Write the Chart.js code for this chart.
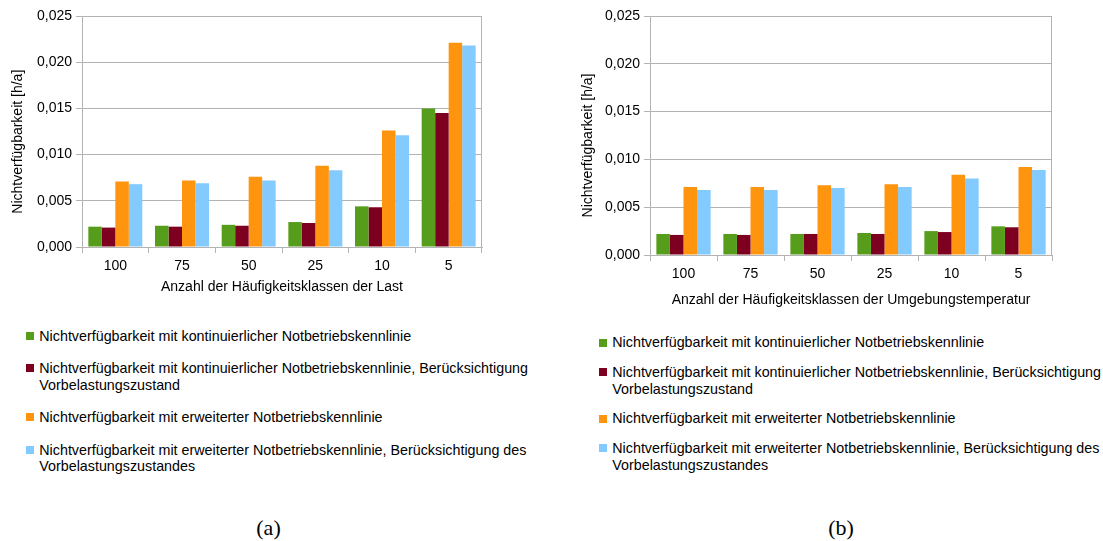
<!DOCTYPE html>
<html lang="de">
<head>
<meta charset="utf-8">
<title>Nichtverfügbarkeit</title>
<script src="https://cdn.jsdelivr.net/npm/chart.js@4.4.1/dist/chart.umd.min.js"></script>
<style>
  html, body { margin: 0; padding: 0; background: #fff; }
  body { width: 1103px; height: 541px; position: relative; overflow: hidden;
         font-family: "Liberation Sans", Arial, sans-serif; color: #000; }
  .chartbox { position: absolute; }
  .legend { position: absolute; font-size: 14.3px; }
  .legend .item { position: relative; white-space: pre; }
  .legend .swatch { position: absolute; left: 0; width: 8px; height: 8px; }
  .caption { position: absolute; font-family: "Liberation Serif", serif; font-size: 22px;
             transform: translate(-50%, -50%); white-space: nowrap; }
</style>
</head>
<body>
<div class="chartbox" style="left:0;top:0;"><canvas id="chartLast" width="560" height="310"></canvas></div>
<div class="chartbox" style="left:560px;top:0;"><canvas id="chartTemp" width="543" height="320"></canvas></div>
<div class="legend" id="legendLast" style="left:26px;top:327.5px;"></div>
<div class="legend" id="legendTemp" style="left:599.3px;top:334.2px;"></div>
<div class="caption" style="left:268.5px;top:528px;">(a)</div>
<div class="caption" style="left:841px;top:528px;">(b)</div>

<script>
// Categories: number of frequency classes
const categories = ['100', '75', '50', '25', '10', '5'];

// Series names (explicit line breaks as in the legend)
const seriesNames = [
  'Nichtverfügbarkeit mit kontinuierlicher Notbetriebskennlinie',
  'Nichtverfügbarkeit mit kontinuierlicher Notbetriebskennlinie, Berücksichtigung\nVorbelastungszustand',
  'Nichtverfügbarkeit mit erweiterter Notbetriebskennlinie',
  'Nichtverfügbarkeit mit erweiterter Notbetriebskennlinie, Berücksichtigung des\nVorbelastungszustandes'
];
const seriesColors = ['#579d1c', '#7e0021', '#ff950e', '#83caff'];

// (a) classes of the load [h/a]
const lastKontinuierlich            = [0.0022, 0.0023, 0.0024, 0.0027, 0.0044, 0.0150];
const lastKontinuierlichVorbelastung = [0.0021, 0.0022, 0.0023, 0.0026, 0.0043, 0.0145];
const lastErweitert                 = [0.0071, 0.0072, 0.0076, 0.0088, 0.0126, 0.0221];
const lastErweitertVorbelastung     = [0.0068, 0.0069, 0.0072, 0.0083, 0.0121, 0.0218];

// (b) classes of the ambient temperature [h/a]
const tempKontinuierlich            = [0.0022, 0.0022, 0.0022, 0.0023, 0.0025, 0.0030];
const tempKontinuierlichVorbelastung = [0.0021, 0.0021, 0.0022, 0.0022, 0.0024, 0.0029];
const tempErweitert                 = [0.0071, 0.0071, 0.0073, 0.0074, 0.0084, 0.0092];
const tempErweitertVorbelastung     = [0.0068, 0.0068, 0.0070, 0.0071, 0.0080, 0.0089];

// Value axis
const yMin = 0, yMax = 0.025, yStep = 0.005;
const yTickLabels = ['0,000', '0,005', '0,010', '0,015', '0,020', '0,025'];
const yTitle = 'Nichtverfügbarkeit [h/a]';

const FONT = '"Liberation Sans", Arial, sans-serif';
const GRID = '#b3b3b3';

// Frame around the plot area
const framePlugin = {
  id: 'frame',
  beforeDatasetsDraw(chart) {
    const a = chart.chartArea, ctx = chart.ctx;
    ctx.save();
    ctx.strokeStyle = GRID;
    ctx.lineWidth = 1;
    ctx.strokeRect(Math.round(a.left) + 0.5, Math.round(a.top) + 0.5,
                   Math.round(a.right - a.left) - 1, Math.round(a.bottom - a.top));
    ctx.restore();
  }
};

// Rotated value-axis title, centred over the whole chart block
const yTitlePlugin = {
  id: 'yTitle',
  afterDraw(chart, args, opts) {
    const ctx = chart.ctx;
    ctx.save();
    ctx.translate(opts.x, opts.y);
    ctx.rotate(-Math.PI / 2);
    ctx.font = '14px ' + FONT;
    ctx.fillStyle = '#000';
    ctx.textAlign = 'center';
    ctx.textBaseline = 'middle';
    ctx.fillText(opts.text, 0, 0);
    ctx.restore();
  }
};

function makeChart(id, xTitle, series, g) {
  const datasets = series.map((values, i) => ({
    label: seriesNames[i],
    data: values,
    backgroundColor: seriesColors[i],
    borderWidth: 0,
    categoryPercentage: 0.81,
    barPercentage: 1.0
  }));
  return new Chart(document.getElementById(id), {
    type: 'bar',
    data: { labels: categories, datasets },
    options: {
      responsive: false,
      animation: false,
      devicePixelRatio: 1,
      layout: { padding: { left: 0, top: g.top, right: g.right, bottom: 0 } },
      plugins: {
        legend: { display: false },
        tooltip: { enabled: false },
        yTitle: { text: yTitle, x: g.yTitleX, y: g.yTitleY }
      },
      scales: {
        x: {
          grid: { display: true, drawOnChartArea: false, drawTicks: true, tickLength: 6,
                  color: GRID, offset: true },
          border: { display: true, color: GRID },
          ticks: { padding: 5, color: '#000', font: { family: FONT, size: 14 } },
          title: { display: true, text: xTitle, color: '#000',
                   font: { family: FONT, size: 14 }, padding: { top: 0, bottom: g.xTitlePad } },
          afterFit(scale) { scale.height = g.xAxisHeight; }
        },
        y: {
          min: yMin, max: yMax,
          grid: { color: GRID, tickLength: 6, drawTicks: true },
          border: { display: true, color: GRID },
          ticks: { stepSize: yStep, padding: 4, color: '#000',
                   font: { family: FONT, size: 14 },
                   callback: (v, i) => yTickLabels[i] },
          afterFit(scale) { scale.width = g.yAxisWidth; }
        }
      }
    },
    plugins: [framePlugin, yTitlePlugin]
  });
}

function buildLegend(elId, g) {
  const el = document.getElementById(elId);
  seriesNames.forEach((name, i) => {
    const item = document.createElement('div');
    item.className = 'item';
    item.style.paddingLeft = g.textIndent + 'px';
    item.style.lineHeight = g.lineHeight + 'px';
    item.style.marginBottom = g.gap + 'px';
    const sw = document.createElement('span');
    sw.className = 'swatch';
    sw.style.background = seriesColors[i];
    sw.style.top = ((g.lineHeight - 8) / 2) + 'px';
    item.appendChild(sw);
    item.appendChild(document.createTextNode(name));
    el.appendChild(item);
  });
}

makeChart('chartLast', 'Anzahl der Häufigkeitsklassen der Last',
  [lastKontinuierlich, lastKontinuierlichVorbelastung, lastErweitert, lastErweitertVorbelastung],
  { top: 16, right: 78, yAxisWidth: 82, xAxisHeight: 63, xTitlePad: 14.6,
    yTitleX: 18, yTitleY: 141.7 });

makeChart('chartTemp', 'Anzahl der Häufigkeitsklassen der Umgebungstemperatur',
  [tempKontinuierlich, tempKontinuierlichVorbelastung, tempErweitert, tempErweitertVorbelastung],
  { top: 16, right: 51, yAxisWidth: 90, xAxisHeight: 65, xTitlePad: 11.6,
    yTitleX: 28, yTitleY: 145.5 });

buildLegend('legendLast', { textIndent: 13.3, lineHeight: 16.5, gap: 16 });
buildLegend('legendTemp', { textIndent: 13, lineHeight: 17, gap: 12.5 });
</script>
</body>
</html>
